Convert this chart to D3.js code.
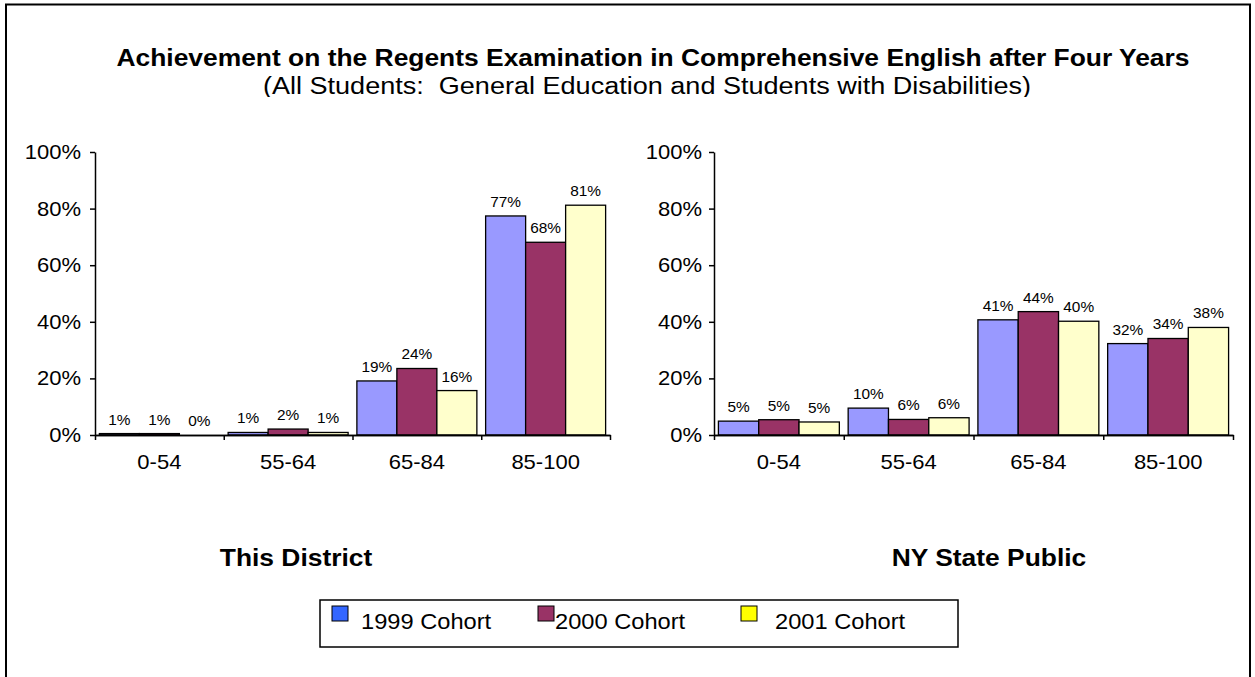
<!DOCTYPE html>
<html>
<head>
<meta charset="utf-8">
<script src="https://cdn.jsdelivr.net/npm/d3@7"></script>
<style>
  html, body { margin: 0; padding: 0; background: #fff; }
  svg { display: block; font-family: "Liberation Sans", Arial, sans-serif; }
</style>
</head>
<body>
<svg id="chart" width="1255" height="677"></svg>
<script>
// ---------- data ----------
const categories = ["0-54", "55-64", "65-84", "85-100"];
const seriesNames = ["1999 Cohort", "2000 Cohort", "2001 Cohort"];
const yTickValues = [0, 20, 40, 60, 80, 100];

const district1999 = [0.5, 0.9, 19.1, 77.4];
const district2000 = [0.5, 2.1, 23.5, 68.1];
const district2001 = [0.0, 0.9, 15.7, 81.2];

const state1999 = [4.9, 9.5, 40.7, 32.3];
const state2000 = [5.4, 5.5, 43.6, 34.1];
const state2001 = [4.6, 6.1, 40.2, 38.0];

const titleText = "Achievement on the Regents Examination in Comprehensive English after Four Years";
const subtitleText = "(All Students:  General Education and Students with Disabilities)";
const panelTitles = ["This District", "NY State Public"];

// ---------- styles ----------
const barFill = ["#9999FF", "#993366", "#FFFFCC"];
const keyFill = ["#3366FF", "#993366", "#FFFF00"];
const SX = 1.1; // horizontal text stretch of the original rendering

const svg = d3.select("#chart");

function stext(sel, x, y, str, size, weight, anchor) {
  return sel.append("text")
    .attr("transform", `translate(${x},${y}) scale(${SX},1)`)
    .attr("text-anchor", anchor || "middle")
    .style("font-size", size + "px")
    .style("font-weight", weight || "normal")
    .style("white-space", "pre")
    .attr("fill", "#000")
    .text(str);
}

// outer border
svg.append("rect")
  .attr("x", 6).attr("y", 4.5).attr("width", 1244).attr("height", 800)
  .attr("fill", "none").attr("stroke", "#000").attr("stroke-width", 2);

// titles
stext(svg, 653, 66, titleText, 24, "bold");
svg.append("defs").append("clipPath").attr("id", "subclip")
  .append("rect").attr("x", 0).attr("y", 60).attr("width", 1255).attr("height", 37);
svg.append("g").attr("clip-path", "url(#subclip)")
  .call(g => stext(g, 647, 94, subtitleText, 24.6, "normal"));

// ---------- panels ----------
const panels = [
  { title: panelTitles[0], values: [district1999, district2000, district2001], left: 95, right: 610, titleX: 296, labelGap: 14 },
  { title: panelTitles[1], values: [state1999, state2000, state2001], left: 714, right: 1233, titleX: 989, labelGap: 12 }
];
const plotTop = 152, plotBottom = 435;

const y = d3.scaleLinear().domain([0, 100]).range([plotBottom, plotTop]);

panels.forEach(p => {
  const g = svg.append("g");
  const x0 = d3.scaleBand().domain(categories).range([p.left, p.right])
    .paddingInner(0.068).paddingOuter(0.034);
  const x1 = d3.scaleBand().domain(seriesNames).range([0, x0.bandwidth()]).padding(0);

  // bars
  p.values.forEach((vals, si) => {
    const sg = g.append("g");
    sg.selectAll("rect").data(vals).join("rect")
      .attr("x", (d, i) => x0(categories[i]) + x1(seriesNames[si]))
      .attr("y", d => y(d))
      .attr("width", x1.bandwidth())
      .attr("height", d => plotBottom - y(d))
      .attr("fill", barFill[si])
      .attr("stroke", "#000")
      .attr("stroke-width", 1.3);
    vals.forEach((d, i) => {
      stext(sg, x0(categories[i]) + x1(seriesNames[si]) + x1.bandwidth() / 2, y(d) - 9,
        Math.round(d) + "%", 14, "normal");
    });
  });

  // y axis
  const ya = g.append("g").attr("transform", `translate(${p.left},0)`)
    .call(d3.axisLeft(y).tickValues(yTickValues).tickFormat(d => d + "%").tickSize(5).tickSizeOuter(0));
  ya.selectAll("text").attr("x", -p.labelGap / SX).attr("transform", `scale(${SX},1)`)
    .style("font-size", "20px").style("font-family", "Liberation Sans, Arial, sans-serif").attr("fill", "#000");

  // x axis: labels at category centres
  const xa = g.append("g").attr("transform", `translate(0,${plotBottom})`)
    .call(d3.axisBottom(x0).tickSize(0).tickPadding(20).tickSizeOuter(0));
  xa.selectAll(".tick").each(function() {
    const tr = d3.select(this).attr("transform");
    const m = /translate\(([-\d.e]+)/.exec(tr);
    const cx = +m[1];
    d3.select(this).attr("transform", `translate(${cx},0)`);
    d3.select(this).select("text").attr("x", 0).attr("transform", `scale(${SX},1)`);
  });
  xa.selectAll("text").style("font-size", "20px").style("font-family", "Liberation Sans, Arial, sans-serif").attr("fill", "#000");

  // boundary ticks
  const xb = d3.scaleLinear().domain([0, categories.length]).range([p.left, p.right]);
  const xt = g.append("g").attr("transform", `translate(0,${plotBottom})`)
    .call(d3.axisBottom(xb).ticks(categories.length).tickFormat("").tickSize(5).tickSizeOuter(0));
  xt.selectAll("text").remove();

  g.selectAll(".domain, .tick line").attr("stroke", "#000").attr("stroke-width", 1.5);

  // panel title
  stext(svg, p.titleX, 566, p.title, 24, "bold");
});

// ---------- legend ----------
const lg = svg.append("g");
lg.append("rect").attr("x", 320).attr("y", 600).attr("width", 638).attr("height", 47)
  .attr("fill", "#fff").attr("stroke", "#000").attr("stroke-width", 1.5);
const keyX = [332, 538, 741];
const textX = [361, 555, 775];
seriesNames.forEach((s, i) => {
  lg.append("rect").attr("x", keyX[i]).attr("y", 606).attr("width", 16).attr("height", 15)
    .attr("fill", keyFill[i]).attr("stroke", "#000").attr("stroke-width", 1);
  stext(lg, textX[i], 629, s, 21.5, "normal", "start");
});
</script>
</body>
</html>
